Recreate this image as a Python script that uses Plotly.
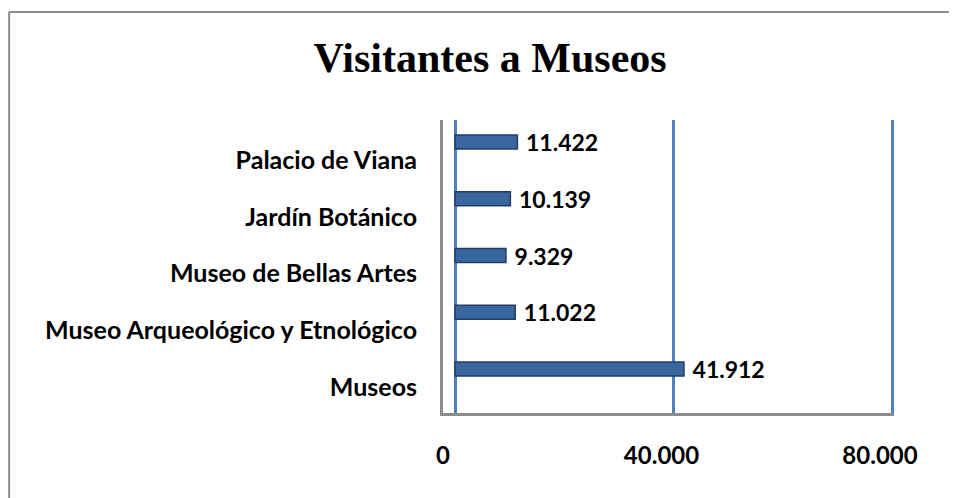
import plotly.graph_objects as go

# datos
categorias = ["Museos", "Museo Arqueológico y Etnológico", "Museo de Bellas Artes",
              "Jardín Botánico", "Palacio de Viana"]
visitantes = [41912, 11022, 9329, 10139, 11422]
etiquetas = ["41.912", "11.022", "9.329", "10.139", "11.422"]
ticks_x = [0, 40000, 80000]
ticks_x_txt = ["0", "40.000", "80.000"]

fig = go.Figure()

fig.add_trace(go.Bar(
    y=categorias,
    x=visitantes,
    orientation="h",
    width=0.25,
    marker=dict(color="#3a66a0", line=dict(color="#223e66", width=1.5)),
    text=[" " + t for t in etiquetas],
    textposition="outside",
    constraintext="none",
    cliponaxis=False,
    textfont=dict(family="Lato", size=23, color="black", weight="bold"),
))

fig.update_layout(
    width=949, height=490,
    margin=dict(l=435, r=63, t=112, b=85),
    paper_bgcolor="white",
    plot_bgcolor="white",
    showlegend=False,
    title=dict(text="<b>Visitantes a Museos</b>", x=0.508, xanchor="center",
               y=0.9, yanchor="middle",
               font=dict(family="Liberation Serif", size=42, color="black")),
    font=dict(family="Lato", size=24, color="black"),
)

fig.update_xaxes(
    range=[-2197, 80366],
    tickvals=ticks_x,
    ticktext=["<b>%s</b>" % t for t in ticks_x_txt],
    showgrid=True, gridcolor="#4f81bd", gridwidth=3,
    zeroline=False,
    showline=True, linecolor="#8c8c8c", linewidth=3,
    ticks="", ticklabelstandoff=19, ticklabelshift=-12,
    tickfont=dict(family="Lato", size=24, color="black"),
)

fig.update_yaxes(
    range=[-0.775, 4.388],
    tickvals=categorias,
    ticktext=["<b>%s</b>" % c for c in categorias],
    showgrid=False,
    showline=True, linecolor="#8c8c8c", linewidth=3,
    ticks="", ticklabelstandoff=18, ticklabelshift=18,
    tickfont=dict(family="Lato", size=25, color="black"),
)

# borde exterior del gráfico (solo arriba e izquierda quedan visibles)
borde = dict(color="#8c8c8c", width=2)
fig.add_shape(type="line", xref="paper", yref="paper",
              x0=-0.962, x1=1.3, y0=1.369, y1=1.369, line=borde, layer="below")
fig.add_shape(type="line", xref="paper", yref="paper",
              x0=-0.962, x1=-0.962, y0=-0.5, y1=1.369, line=borde, layer="below")

fig.write_html("out.html")
